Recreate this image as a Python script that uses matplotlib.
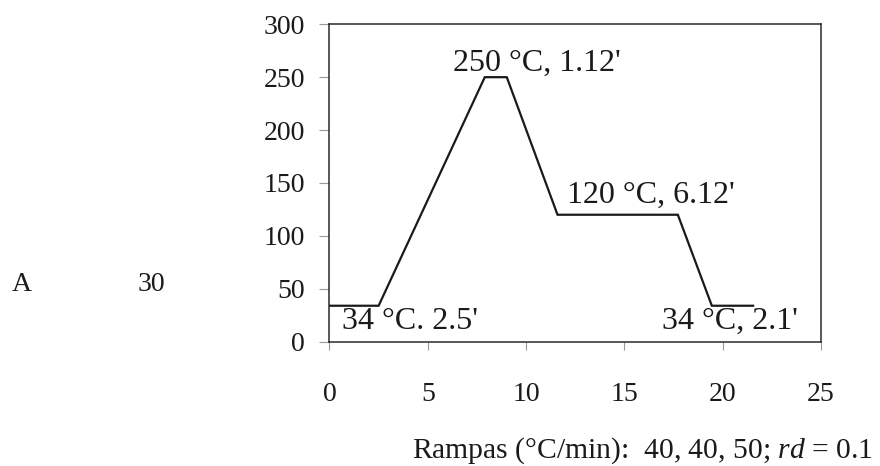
import matplotlib
matplotlib.use("Agg")
import matplotlib.pyplot as plt

plt.rcParams['font.family'] = ['Liberation Serif', 'DejaVu Serif']
plt.rcParams['mathtext.fontset'] = 'custom'
plt.rcParams['mathtext.rm'] = 'Liberation Serif'
plt.rcParams['mathtext.it'] = 'Liberation Serif:italic'

# Temperature program (time in min, temperature in °C)
time_min = [0, 2.5, 7.9, 9.02, 11.6, 17.72, 19.45, 21.55]
temp_c = [34, 34, 250, 250, 120, 120, 34, 34]

x_ticks = [0, 5, 10, 15, 20, 25]
y_ticks = [0, 50, 100, 150, 200, 250, 300]

labels = ["250 °C, 1.12'", "120 °C, 6.12'", "34 °C. 2.5'", "34 °C, 2.1'"]
label_x = [6.27, 12.07, 0.63, 16.94]
label_y = [256, 131, 12, 12]

xlabel = r"Rampas (°C/min):  40, 40, 50; $\mathit{rd}$ = 0.1"

fig = plt.figure(figsize=(8.8, 4.66), dpi=100)
ax = fig.add_axes([0.3744, 0.2667, 0.5585, 0.6812])

ax.plot(time_min, temp_c, color='#1a1a1a', lw=1.6, solid_joinstyle='miter')

ax.set_xlim(0, 25)
ax.set_ylim(0, 300)
ax.set_xticks(x_ticks)
ax.set_yticks(y_ticks)
ax.tick_params(axis='y', direction='out', length=7, width=0.8, color='#999999',
               pad=10.5, labelsize=20, labelcolor='#1a1a1a')
ax.tick_params(axis='x', direction='out', length=6, width=0.8, color='#999999',
               pad=23, labelsize=20, labelcolor='#1a1a1a')
for s in ax.spines.values():
    s.set_color('#2a2a2a')
    s.set_linewidth(1.1)

for t, lx, ly in zip(labels, label_x, label_y):
    ax.text(lx, ly, t, fontsize=23, ha='left', va='baseline', color='#1a1a1a')

fig.text(412 / 880, 1 - 458 / 466, xlabel, fontsize=21.3, ha='left', va='baseline',
         color='#1a1a1a')
fig.text(12 / 880, 1 - 290.7 / 466, "A", fontsize=20, ha='left', va='baseline',
         color='#1a1a1a')
fig.text(138 / 880, 1 - 290.7 / 466, "30", fontsize=20, ha='left', va='baseline',
         color='#1a1a1a')

fig.savefig("out.png", dpi=100, facecolor='white')
